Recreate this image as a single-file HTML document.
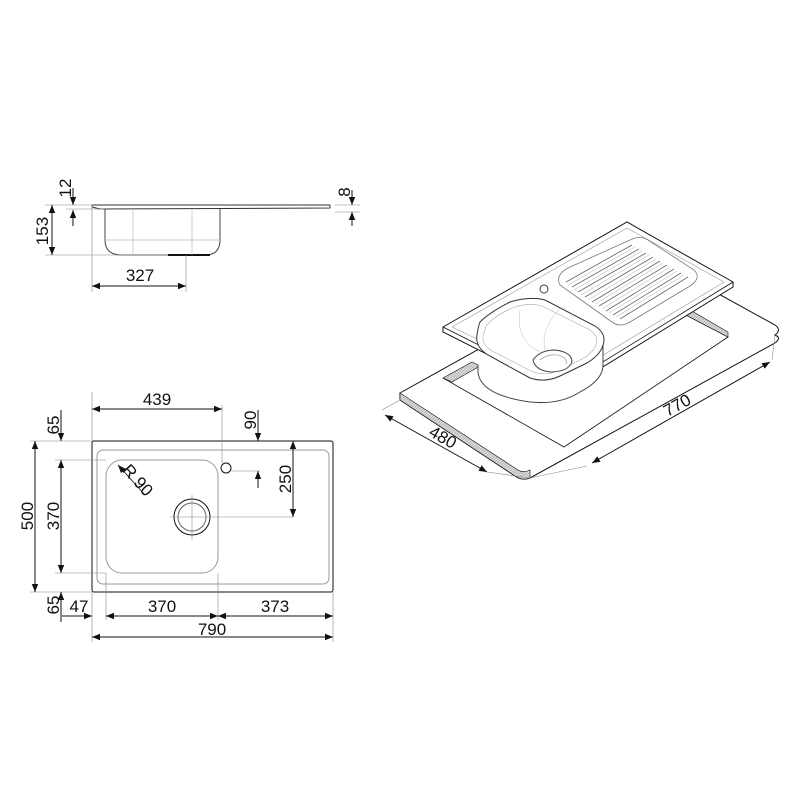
<!DOCTYPE html>
<html><head><style>body{margin:0;background:#fff}svg{display:block}text{font-family:"Liberation Sans",sans-serif;font-size:17px;fill:#111}</style></head>
<body>
<svg width="800" height="800" viewBox="0 0 800 800" xmlns="http://www.w3.org/2000/svg">
<defs>
<marker id="a" viewBox="0 0 10 10" refX="10" refY="5" markerWidth="8" markerHeight="8" orient="auto-start-reverse" markerUnits="userSpaceOnUse"><path d="M0,1 L10,5 L0,9z" fill="#111"/></marker>
<pattern id="h" width="3" height="3" patternUnits="userSpaceOnUse"><rect width="3" height="3" fill="#ddd"/><path d="M0,3 L3,0" stroke="#999" stroke-width="0.6"/></pattern>
</defs>
<g fill="none" stroke="#111" stroke-width="1">
<!-- side view -->
<path d="M92,205 L330,205 L330,208 L100,209 L92,207 Z" stroke="#333"/>
<path d="M105,209 L105,240 Q105,255 122,255 L205,255 Q220,255 220,240 L220,209" stroke="#444"/>
<path d="M168,255 L210,255" stroke-width="2"/>
<g stroke="#bbb" stroke-width="0.7"><path d="M133,209 V255 M192,209 V255 M105,240 H220"/></g>
<g stroke="#888" stroke-width="0.6">
<path d="M45,205 H92 M45,255 H168 M66,209 H105 M92,205 V292 M186,255 V292 M335,205 H360 M335,212 H360"/>
</g>
<path d="M73,188 V205" marker-end="url(#a)"/><path d="M73,226 V210" marker-end="url(#a)"/>
<path d="M52,205 V255" marker-start="url(#a)" marker-end="url(#a)"/>
<path d="M92,286 H186" marker-start="url(#a)" marker-end="url(#a)"/>
<path d="M352,190 V205" marker-end="url(#a)"/><path d="M352,226 V212" marker-end="url(#a)"/>

<!-- top view -->
<rect x="92" y="441" width="241" height="151" rx="2"/>
<rect x="97" y="450" width="232" height="134" rx="6" stroke="#999"/>
<rect x="106" y="460" width="112" height="113" rx="16" stroke="#999"/>
<circle cx="192" cy="517" r="18"/><circle cx="192" cy="517" r="14" stroke="#666"/>
<circle cx="226" cy="468" r="5"/>
<g stroke="#888" stroke-width="0.6">
<path d="M92,392 V441 M222,405 V463 M231,471 H260 M192,495 V540 M170,517 H293 M30,441 H92 M55,460 H106 M55,573 H106 M30,592 H92 M92,592 V642 M106,573 V620 M218,573 V620 M333,592 V642"/>
</g>
<path d="M92,409 H222" marker-start="url(#a)" marker-end="url(#a)"/>
<path d="M258,410 V441" marker-end="url(#a)"/><path d="M258,488 V471" marker-end="url(#a)"/>
<path d="M293,441 V517" marker-start="url(#a)" marker-end="url(#a)"/>
<path d="M35,441 V592" marker-start="url(#a)" marker-end="url(#a)"/>
<path d="M61,410 V441" marker-end="url(#a)"/>
<path d="M61,460 V573" marker-start="url(#a)" marker-end="url(#a)"/>
<path d="M61,622 V592" marker-end="url(#a)"/>
<path d="M62,616 H92" marker-end="url(#a)"/>
<path d="M106,616 H218" marker-start="url(#a)" marker-end="url(#a)"/>
<path d="M218,616 H333" marker-start="url(#a)" marker-end="url(#a)"/>
<path d="M92,637 H333" marker-start="url(#a)" marker-end="url(#a)"/>
<path d="M145,495 L118,465" marker-end="url(#a)" stroke-width="0.8"/>

<!-- iso view: countertop -->
<path d="M400,393 L648,255 L775,325 Q782,330 775,335 L530,470 Q522,474 515,468 Z" fill="#fff"/>
<path d="M400,393 L400,400 L515,476 Q522,481 530,478 L775,343 Q782,338 775,335" fill="#fff"/>
<path d="M400,393 L400,400 L515,476 Q522,481 530,478 L530,470 Q522,474 515,468 Z" fill="url(#h)" stroke-width="0.6"/>
<path d="M443,378 L472,362 L480,366 L452,382 Z" fill="url(#h)" stroke-width="0.6"/>
<path d="M443,378 L564,447 L728,337 L682,313" stroke-width="0.8"/>
<path d="M682,313 L690,310 L728,332 L728,337 Z" fill="url(#h)" stroke-width="0.6"/>
<!-- sink plate -->
<path d="M443,327 L627,222 L733,282 L733,287 L562,392 L443,332 Z" fill="#fff"/>
<path d="M443,327 L562,387 L733,282 M562,387 L562,392" stroke-width="0.8"/>
<path d="M452,327 L627,228 L724,282 L562,380 Z" stroke="#999" stroke-width="0.6"/>
<!-- bowl -->
<path d="M478,365 L478,372 Q480,395 530,402 Q560,405 580,392 Q603,380 603,365 L603,345" fill="#fff" stroke="#444"/>
<path d="M480,322 Q490,312 510,302 Q530,296 545,300 L595,326 Q607,334 603,345 Q600,356 585,364 L560,376 Q545,383 530,378 L488,355 Q475,347 477,335 Q478,327 480,322 Z" fill="#fff" stroke="#333"/>
<path d="M486,326 Q494,316 512,308 Q528,302 542,306 L590,330 Q599,336 596,345 Q592,354 582,359 L558,371 Q545,376 533,372 L492,351 Q482,345 483,336 Z" stroke="#aaa" stroke-width="0.6"/>
<path d="M533,360 Q540,350 555,350 Q572,352 572,362 Q568,372 550,372 Q535,370 533,360 Z" fill="#fff" stroke="#444"/>
<path d="M540,360 Q547,354 557,355 Q568,357 566,364" stroke="#888" stroke-width="0.6"/>
<path d="M520,310 Q515,340 540,352 M560,308 Q540,330 545,350" stroke="#bbb" stroke-width="0.5"/>
<circle cx="544" cy="289" r="4" stroke="#444"/>
<!-- drainboard -->
<path d="M560,285 Q555,275 568,268 L630,240 Q640,235 648,240 L694,270 Q702,278 690,286 L630,322 Q620,328 612,322 Z" stroke="#777" stroke-width="0.8"/>
<g stroke="#666" stroke-width="0.8">
<path d="M566,282 L632,245 M572,287 L639,249 M578,292 L646,253 M585,297 L653,257 M592,302 L660,261 M599,306 L667,265 M606,311 L674,269 M613,315 L681,273 M620,319 L688,277"/>
</g>
<g stroke="#aaa" stroke-width="0.5">
<path d="M568,285 L635,247 M574,290 L642,251 M581,295 L649,255 M588,300 L656,259 M595,304 L663,263 M602,309 L670,267 M609,313 L677,271 M616,317 L684,275"/>
</g>
<!-- iso dims -->
<g stroke="#888" stroke-width="0.6"><path d="M400,400 L382,410 M530,478 L487,472 M530,478 L587,466 M775,335 L772,360"/></g>
<path d="M385,415 L487,472" marker-start="url(#a)" marker-end="url(#a)"/>
<path d="M592,463 L770,362" marker-start="url(#a)" marker-end="url(#a)"/>
</g>
<text x="65" y="194" text-anchor="middle" transform="rotate(-90 65 188)">12</text>
<text x="42" y="237" text-anchor="middle" transform="rotate(-90 42 231)">153</text>
<text x="140" y="281" text-anchor="middle">327</text>
<text x="344" y="198" text-anchor="middle" transform="rotate(-90 344 192)">8</text>
<text x="157" y="405" text-anchor="middle">439</text>
<text x="250" y="426" text-anchor="middle" transform="rotate(-90 250 420)">90</text>
<text x="285" y="485" text-anchor="middle" transform="rotate(-90 285 479)">250</text>
<text x="27" y="522" text-anchor="middle" transform="rotate(-90 27 516)">500</text>
<text x="53" y="522" text-anchor="middle" transform="rotate(-90 53 516)">370</text>
<text x="53" y="431" text-anchor="middle" transform="rotate(-90 53 425)">65</text>
<text x="53" y="611" text-anchor="middle" transform="rotate(-90 53 605)">65</text>
<text x="79" y="612" text-anchor="middle">47</text>
<text x="162" y="612" text-anchor="middle">370</text>
<text x="275" y="612" text-anchor="middle">373</text>
<text x="212" y="635" text-anchor="middle">790</text>
<text x="138" y="486" text-anchor="middle" transform="rotate(48 138 480)">R 90</text>
<text x="443" y="443" text-anchor="middle" transform="rotate(30 443 437)">480</text>
<text x="677" y="411" text-anchor="middle" transform="rotate(-29 677 405)">770</text>
</svg>
</body></html>
